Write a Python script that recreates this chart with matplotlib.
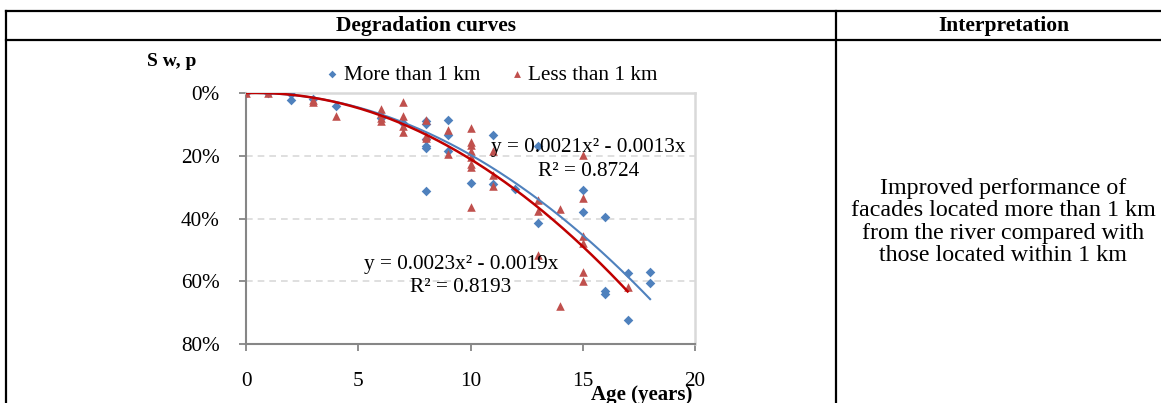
import numpy as np
import matplotlib
matplotlib.use("Agg")
import matplotlib.pyplot as plt
from matplotlib.lines import Line2D
from matplotlib.ticker import FuncFormatter

plt.rcParams['font.family'] = ['Liberation Serif', 'DejaVu Serif']

# ---- data (age in years, degradation severity in %) ----
more_x = [0, 1, 2, 2, 3, 4, 6, 7, 8, 8, 8, 8, 8, 8, 9, 9, 9, 10, 11, 11, 12, 13, 13,
          15, 15, 16, 16, 16, 17, 17, 18, 18]
more_y = [0, 0, 0.2, 2.2, 2.0, 4.2, 8.0, 9.5, 8.8, 9.8, 14.8, 16.8, 17.6, 31.2, 8.7, 13.3, 18.4,
          28.7, 13.3, 29.0, 30.7, 17.0, 41.4, 30.8, 37.8, 39.4, 63.0, 64.0, 57.5, 72.4,
          57.2, 60.7]
less_x = [0, 1, 3, 3, 4, 6, 6, 6, 6, 7, 7, 7, 7, 8, 8, 8, 9, 9, 10, 10, 10, 10, 10, 10,
          10, 10, 11, 11, 11, 13, 13, 13, 14, 14, 15, 15, 15, 15, 15, 15, 17]
less_y = [0, 0, 2.2, 3.0, 7.4, 5.0, 6.4, 8.1, 9.0, 3.0, 7.3, 10.6, 12.4, 8.5, 13.8, 14.5,
          11.9, 19.5, 11.2, 15.5, 16.6, 18.6, 20.5, 22.5, 23.6, 36.3, 18.6, 26.0, 29.7,
          34.1, 37.7, 51.7, 37.1, 68.0, 19.9, 33.4, 45.5, 47.9, 56.9, 59.8, 61.9]

# trendline coefficients as printed on the chart (y = a x^2 + b x, fraction)
more_coef = (0.0021, -0.0013)
less_coef = (0.0023, -0.0019)
more_r2 = 0.8724
less_r2 = 0.8193

x_ticks = [0, 5, 10, 15, 20]
y_ticks = [0, 20, 40, 60, 80]

W, H = 1161, 403
fig = plt.figure(figsize=(W / 100, H / 100), dpi=100)

def fx(px):
    return px / W

def fy(py):
    return 1 - py / H

ax = fig.add_axes([fx(246), fy(344), fx(695) - fx(246), fy(93) - fy(344)])

blue = '#4F81BD'
red = '#C0504D'
fs = 15.3

ax.scatter(more_x, more_y, marker='D', s=24, color=blue, zorder=3, linewidths=0,
           label='More than 1 km')
ax.scatter(less_x, less_y, marker='^', s=38, color=red, zorder=3, linewidths=0,
           label='Less than 1 km')

xm = np.linspace(0, max(more_x), 200)
ax.plot(xm, 100 * (more_coef[0] * xm ** 2 + more_coef[1] * xm), color=blue, lw=1.5, zorder=4)
xl = np.linspace(0, max(less_x), 200)
ax.plot(xl, 100 * (less_coef[0] * xl ** 2 + less_coef[1] * xl), color='#C00000', lw=1.8, zorder=4)

ax.set_xlim(0, 20)
ax.set_ylim(80, 0)
ax.set_xticks(x_ticks)
ax.set_yticks(y_ticks)
ax.yaxis.set_major_formatter(FuncFormatter(lambda v, p: f"{int(v)}%"))
ax.tick_params(axis='both', direction='out', length=5, width=1.3, color='#868686',
               labelsize=fs, labelcolor='black')
ax.tick_params(axis='x', pad=15)
ax.tick_params(axis='y', pad=14)

ax.yaxis.grid(True, color='#D9D9D9', linestyle=(0, (4, 3)), lw=1.2)
ax.set_axisbelow(True)
for s in ['left', 'bottom']:
    ax.spines[s].set_color('#868686')
    ax.spines[s].set_linewidth(1.5)
for s in ['top', 'right']:
    ax.spines[s].set_color('#D9D9D9')
    ax.spines[s].set_linewidth(1.8)

# equations
ax.text(15.26, 17.5, f"y = {more_coef[0]:.4f}x\u00b2 - {abs(more_coef[1]):.4f}x",
        fontsize=fs, ha='center', va='center', zorder=5)
ax.text(15.26, 25.0, f"R\u00b2 = {more_r2:.4f}", fontsize=fs, ha='center', va='center', zorder=5)
ax.text(9.58, 54.6, f"y = {less_coef[0]:.4f}x\u00b2 - {abs(less_coef[1]):.4f}x",
        fontsize=fs, ha='center', va='center', zorder=5)
ax.text(9.58, 61.9, f"R\u00b2 = {less_r2:.4f}", fontsize=fs, ha='center', va='center', zorder=5)

leg = ax.legend(ncol=2, frameon=False, loc='center', bbox_to_anchor=(fx(492), fy(75)),
                bbox_transform=fig.transFigure, fontsize=fs, handlelength=0.6,
                handletextpad=0.25, columnspacing=1.4, markerscale=0.8)

fig.text(fx(147), fy(61), "S w, p", fontsize=14, fontweight='bold', ha='left', va='center')
fig.text(fx(642), fy(395), "Age (years)", fontsize=15, fontweight='bold', ha='center',
         va='center')

# table frame
lw = 1.6
fig.add_artist(Line2D([fx(6), 1], [fy(11), fy(11)], color='black', lw=lw))
fig.add_artist(Line2D([fx(6), 1], [fy(40), fy(40)], color='black', lw=lw))
fig.add_artist(Line2D([fx(6), fx(6)], [fy(11), 0], color='black', lw=lw))
fig.add_artist(Line2D([fx(836), fx(836)], [fy(11), 0], color='black', lw=lw))

fig.text(fx(426), fy(26), "Degradation curves", fontsize=15.5, fontweight='bold',
         ha='center', va='center')
fig.text(fx(1004), fy(26), "Interpretation", fontsize=15.5, fontweight='bold',
         ha='center', va='center')
fig.text(fx(1003), fy(222),
         "Improved performance of\nfacades located more than 1 km\nfrom the river compared with\nthose located within 1 km",
         fontsize=17.3, ha='center', va='center', linespacing=1.1)

fig.savefig('out.png', dpi=100)
